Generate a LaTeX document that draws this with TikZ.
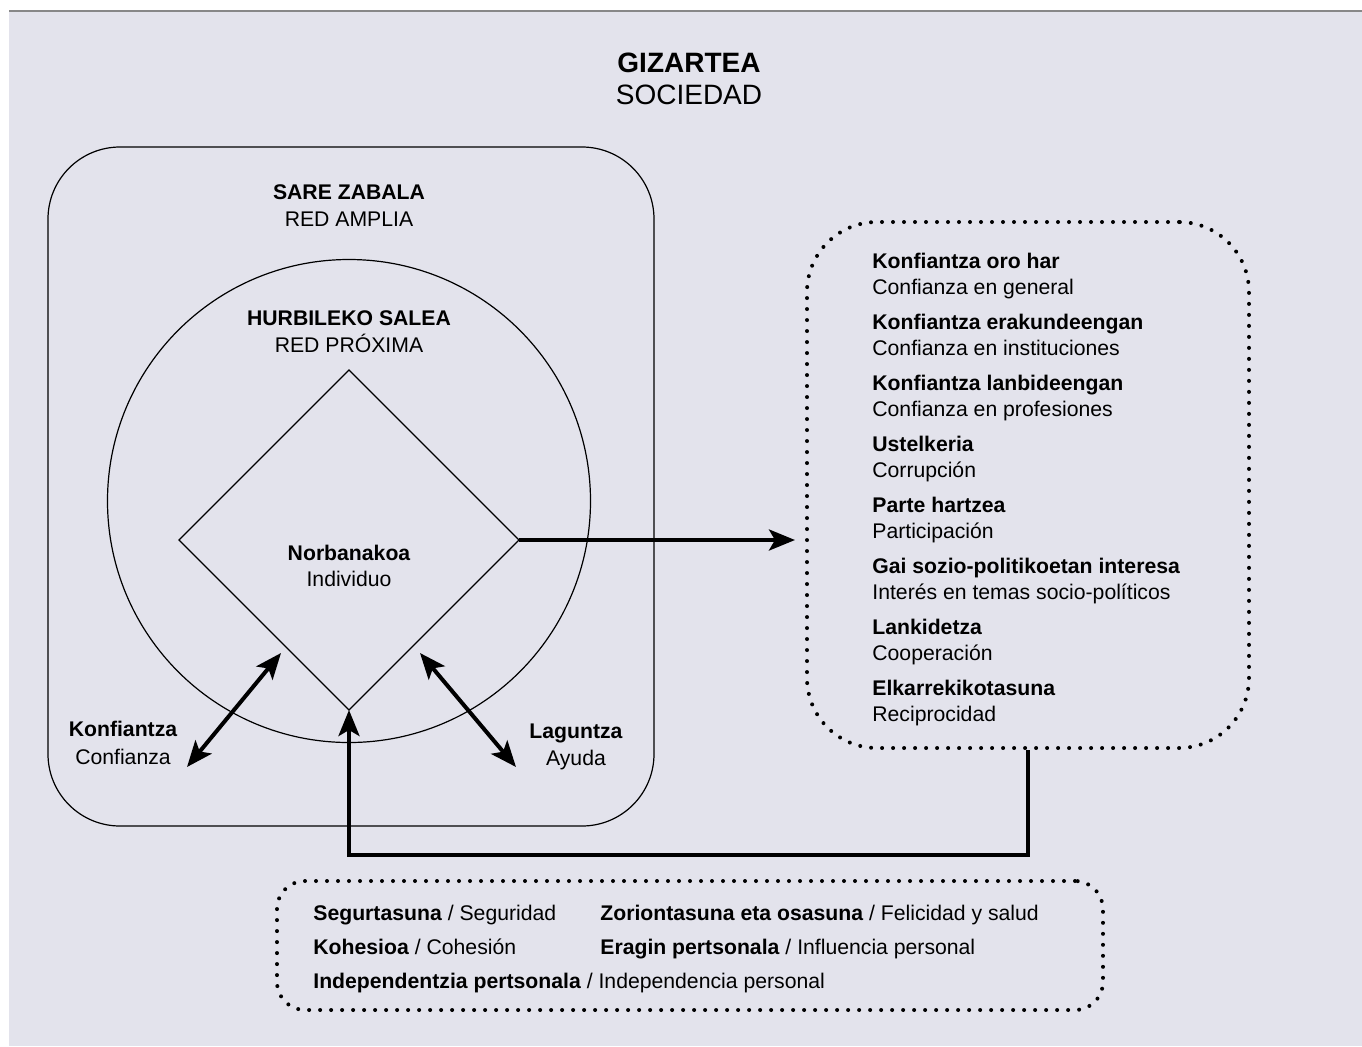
\documentclass[tikz,border=0pt]{standalone}
\usepackage{fontspec}
\setmainfont{Liberation Sans}
\usetikzlibrary{arrows.meta,shapes.geometric}
\definecolor{bgcol}{RGB}{227,227,236}
\definecolor{rulecol}{RGB}{136,136,136}

\begin{document}
\begin{tikzpicture}[x=0.5pt,y=-0.5pt,
  txt/.style={inner sep=0pt,anchor=base,font=\fontsize{10.6}{13}\selectfont},
  hd/.style={txt,font=\fontsize{10.6}{13}\selectfont\bfseries},
  lst/.style={txt,anchor=base west},
  lsthd/.style={hd,anchor=base west},
  thinline/.style={line width=0.6pt},
  bigarrow/.style={line width=2pt,-{Stealth[length=13pt,width=10.5pt,inset=3pt]}},
  twoarrow/.style={line width=2pt,{Stealth[length=13pt,width=10.5pt,inset=3pt]}-{Stealth[length=13pt,width=10.5pt,inset=3pt]}},
  dotbox/.style={draw,line width=2pt,line cap=round,dash pattern=on 0pt off 5.5pt,inner sep=0pt}]
  \useasboundingbox (0,0) rectangle (1362,1046);
  \fill[bgcol] (9,11) rectangle (1362,1046);
  \draw[rulecol,line width=0.8pt] (9,11) -- (1362,11);

  % title
  \node[inner sep=0pt,anchor=base,font=\fontsize{14}{16}\selectfont\bfseries] (gizartea) at (689,72) {GIZARTEA};
  \node[inner sep=0pt,anchor=base,font=\fontsize{14}{16}\selectfont] (sociedad) at (689,104) {SOCIEDAD};

  % wide network
  \draw[thinline,rounded corners=36pt] (48,147) rectangle (654,826);
  \node[hd] (sare) at (349,199) {SARE ZABALA};
  \node[txt] (red) at (349,226) {RED AMPLIA};

  % close network and individual
  \node[circle,draw,thinline,minimum size=241.5pt,inner sep=0pt] (hurbil) at (349,501) {};
  \node[hd] (hurbilEU) at (349,325) {HURBILEKO SALEA};
  \node[txt] (hurbilES) at (349,352) {RED PRÓXIMA};
  \node[diamond,draw,thinline,minimum width=170pt,minimum height=170pt,inner sep=0pt,outer sep=0pt] (indiv) at (349,540) {};
  \node[hd] (norbanakoa) at (349,560) {Norbanakoa};
  \node[txt] (individuo) at (349,586) {Individuo};

  % trust and help
  \coordinate (konfIn) at (281,653);
  \coordinate (konfOut) at (187,767);
  \coordinate (lagIn) at (420,653);
  \coordinate (lagOut) at (516,767);
  \draw[twoarrow] (konfOut) -- (konfIn);
  \draw[twoarrow] (lagIn) -- (lagOut);
  \node[hd] (konfiantza) at (123,736) {Konfiantza};
  \node[txt] (confianza) at (123,764) {Confianza};
  \node[hd] (laguntza) at (576,738) {Laguntza};
  \node[txt] (ayuda) at (576,765) {Ayuda};

  % social capital
  \node[dotbox,rounded corners=35pt,minimum width=221pt,minimum height=263pt] (kapital) at (1028,485) {};
  \node[lsthd] (orohar) at (872,268) {Konfiantza oro har};
  \node[lst] (orohares) at (872,294) {Confianza en general};
  \node[lsthd] (erakunde) at (872,329) {Konfiantza erakundeengan};
  \node[lst] (erakundees) at (872,355) {Confianza en instituciones};
  \node[lsthd] (lanbide) at (872,390) {Konfiantza lanbideengan};
  \node[lst] (lanbidees) at (872,416) {Confianza en profesiones};
  \node[lsthd] (ustelkeria) at (872,451) {Ustelkeria};
  \node[lst] (ustelkeriaes) at (872,477) {Corrupción};
  \node[lsthd] (parte) at (872,512) {Parte hartzea};
  \node[lst] (partees) at (872,538) {Participación};
  \node[lsthd] (interesa) at (872,573) {Gai sozio-politikoetan interesa};
  \node[lst] (interesaes) at (872,599) {Interés en temas socio-políticos};
  \node[lsthd] (lankidetza) at (872,634) {Lankidetza};
  \node[lst] (lankidetzaes) at (872,660) {Cooperación};
  \node[lsthd] (elkar) at (872,695) {Elkarrekikotasuna};
  \node[lst] (elkares) at (872,721) {Reciprocidad};

  \draw[bigarrow,shorten >=5pt] (indiv.east) -- (indiv.east -| kapital.west);
  \draw[bigarrow] (kapital.south) -- ++(0,105) -| (indiv.south);

  % outcomes
  \node[dotbox,rounded corners=14pt,minimum width=413pt,minimum height=64.5pt] (ondorio) at (690,945.5) {};
  \node[lst] (segurtasuna) at (313,920) {\textbf{Segurtasuna} / Seguridad};
  \node[lst] (kohesioa) at (313,954) {\textbf{Kohesioa} / Cohesión};
  \node[lst] (independ) at (313,988) {\textbf{Independentzia pertsonala} / Independencia personal};
  \node[lst] (zoriontasuna) at (600,920) {\textbf{Zoriontasuna eta osasuna} / Felicidad y salud};
  \node[lst] (eragin) at (600,954) {\textbf{Eragin pertsonala} / Influencia personal};
\end{tikzpicture}
\end{document}
